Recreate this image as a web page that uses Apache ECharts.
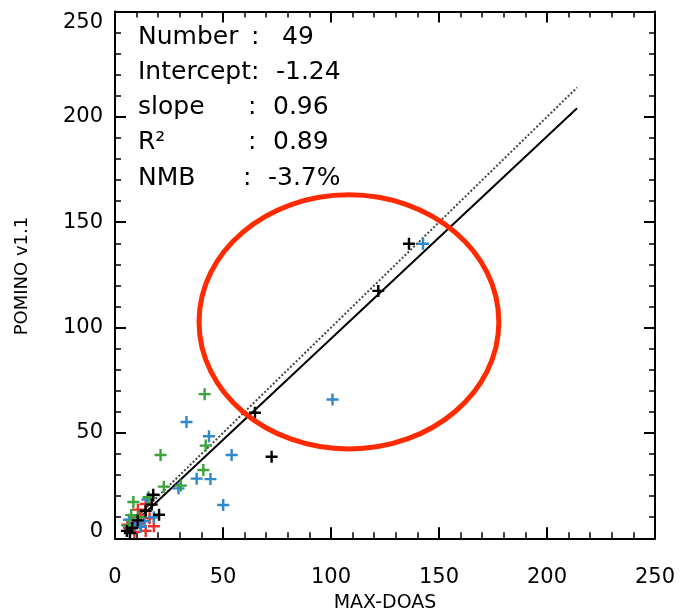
<!DOCTYPE html>
<html><head><meta charset="utf-8">
<script src="https://cdn.jsdelivr.net/npm/echarts@6/dist/echarts.min.js"></script>
<style>html,body{margin:0;padding:0;background:#fff}#c{width:685px;height:616px}</style>
</head><body><div id="c"></div>
<script>
// ---- data ----
const blackPts = [[136.1,139.8],[121.9,117.4],[72.5,38.7],[64.8,59.6],[17.7,20.7],[14.2,13.1],[20.4,11.2],[8,4.9],[6.9,2.5],[10.5,8.5],[17,16],[5.5,3.5]];
const bluePts = [[142.6,139.8],[100.7,65.9],[33.1,55.2],[43.5,48.4],[54,39.5],[37.8,28.3],[44.2,28.1],[29.4,23.7],[50.1,15.8],[15,18.4],[13.4,8.1],[6.5,8.8],[9.5,6.5],[12,5.5],[18,10]];
const greenPts = [[41.5,68.4],[42,44],[21.1,39.5],[40.9,32.4],[22.6,24.5],[30.5,25],[8.5,17.2],[7.5,11],[11,10],[15.5,19.5],[6,6]];
const redPts = [[14.2,16.3],[10.6,13.6],[5.7,6.4],[18,5.7],[14.2,3.5],[8.5,8.5],[12,11],[6.5,5],[16,9.5],[9,3],[11.5,7]];
const fitIntercept = -1.24;
const fitSlope = 0.96;
const fitXRange = [4.2, 213.9];
const axisTicks = [0, 50, 100, 150, 200, 250];
const statsLabels = ['Number', 'Intercept', 'slope', 'R\u00B2', 'NMB'];
const statsValues = ['49', '-1.24', '0.96', '0.89', '-3.7%'];
const ellipseAnno = [108.3, 102.7, 69.4, 60.3]; // cx, cy, rx, ry in data units

const FONT = 'DejaVu Sans';
const fitLine = fitXRange.map(x => [x, fitIntercept + fitSlope * x]);
const oneToOne = fitXRange.map(x => [x, x]);
const plusSym = 'path://M4.8,0H7.2V4.8H12V7.2H7.2V12H4.8V7.2H0V4.8H4.8Z';

const chart = echarts.init(document.getElementById('c'), null, {renderer: 'canvas'});

function axisCommon(extra) {
  return Object.assign({
    type: 'value', min: axisTicks[0], max: axisTicks[axisTicks.length - 1], interval: 50,
    axisLine: {show: true, onZero: false, lineStyle: {color: '#000', width: 2}},
    axisTick: {show: true, inside: true, length: 11, lineStyle: {color: '#000', width: 2}},
    minorTick: {show: true, splitNumber: 5, length: 6, lineStyle: {color: '#000', width: 1.5}},
    splitLine: {show: false}
  }, extra);
}

const scatterSeries = (name, data, color) => ({
  name, type: 'scatter', data, symbol: plusSym, symbolSize: 12,
  itemStyle: {color, opacity: 1}, z: 5, silent: true
});

// stats text graphics
const rowY = [37, 72, 107, 142, 178];
const colonX = [251, 251, 248, 248, 243];
const valX = [282, 276, 273, 273, 268];
const graphics = [];
statsLabels.forEach((t, i) => {
  graphics.push({type: 'text', x: 138, y: rowY[i], style: {text: t, font: '25px "' + FONT + '"', fill: '#000', verticalAlign: 'middle', align: 'left'}});
  graphics.push({type: 'text', x: colonX[i], y: rowY[i], style: {text: ':', font: '25px "' + FONT + '"', fill: '#000', verticalAlign: 'middle', align: 'left'}});
  graphics.push({type: 'text', x: valX[i], y: rowY[i], style: {text: statsValues[i], font: '25px "' + FONT + '"', fill: '#000', verticalAlign: 'middle', align: 'left'}});
});
graphics.push({type: 'text', x: 22, y: 276, rotation: Math.PI / 2,
  style: {text: 'POMINO v1.1', font: '18px "' + FONT + '"', fill: '#000', align: 'center', verticalAlign: 'middle'}});
graphics.push({type: 'text', x: 385, y: 603,
  style: {text: 'MAX-DOAS', font: '19px "' + FONT + '"', fill: '#000', align: 'center', verticalAlign: 'middle'}});

const option = {
  animation: false,
  backgroundColor: '#fff',
  grid: {left: 115, right: 30, top: 11.5, bottom: 77.7, show: false},
  xAxis: [
    axisCommon({position: 'bottom',
      axisLabel: {show: true, margin: 29, fontSize: 21, fontFamily: FONT, color: '#000'}}),
    axisCommon({position: 'top', axisLabel: {show: false}})
  ],
  yAxis: [
    axisCommon({position: 'left',
      axisLabel: {show: true, margin: 12, fontSize: 21, fontFamily: FONT, color: '#000',
        formatter: v => v === 250 ? '{a|250}' : (v === 0 ? '{b|0}' : String(v)),
        rich: {
          a: {fontSize: 21, fontFamily: FONT, color: '#000', padding: [22, 0, 0, 0]},
          b: {fontSize: 21, fontFamily: FONT, color: '#000', padding: [0, 0, 14, 0]}
        }}}),
    axisCommon({position: 'right', axisLabel: {show: false}})
  ],
  graphic: graphics,
  series: [
    {type: 'line', data: oneToOne, symbol: 'none', silent: true, z: 3,
      lineStyle: {color: '#444', width: 2, type: [2, 2]}},
    {type: 'line', data: fitLine, symbol: 'none', silent: true, z: 3,
      lineStyle: {color: '#000', width: 2}},
    scatterSeries('red', redPts, '#E8302A'),
    scatterSeries('blue', bluePts, '#2F87CC'),
    scatterSeries('green', greenPts, '#3AA33A'),
    scatterSeries('black', blackPts, '#000000'),
    {type: 'custom', data: [ellipseAnno], silent: true, z: 10,
      encode: {x: 0, y: 1},
      renderItem: (params, api) => {
        const c = api.coord([api.value(0), api.value(1)]);
        const s = api.size([api.value(2), api.value(3)]);
        return {type: 'ellipse', shape: {cx: c[0], cy: c[1], rx: s[0], ry: s[1]},
          style: {fill: 'none', stroke: '#FF2A00', lineWidth: 5}};
      }}
  ]
};
chart.setOption(option);
</script>
</body></html>
